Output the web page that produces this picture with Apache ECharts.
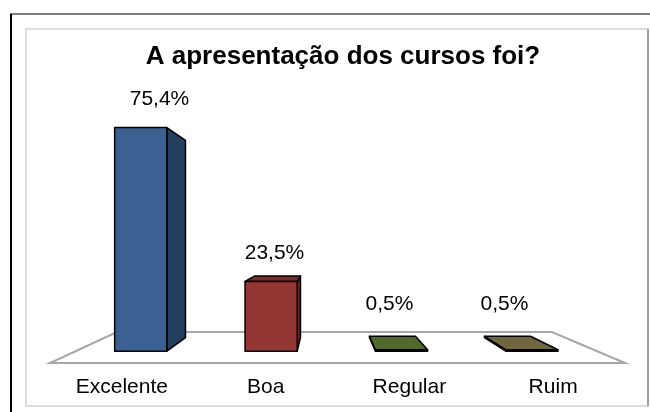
<!DOCTYPE html>
<html>
<head>
<meta charset="utf-8">
<script src="https://cdn.jsdelivr.net/npm/echarts@6/dist/echarts.min.js"></script>
<style>
html, body { margin: 0; padding: 0; background: #fff; }
#chart { width: 650px; height: 412px; }
</style>
</head>
<body>
<div id="chart"></div>
<script>
var categories = ['Excelente', 'Boa', 'Regular', 'Ruim'];
var values = [75.4, 23.5, 0.5, 0.5];
var valueLabels = ['75,4%', '23,5%', '0,5%', '0,5%'];

// face colours per bar: front, side, top
var palette = [
    ['#3b6192', '#243e5f', '#2f5079'],
    ['#943634', '#6a2321', '#7d2c2a'],
    ['#4f6a2a', '#3a4f1f', '#4f6a2a'],
    ['#716640', '#554c30', '#716640']
];

// depth of each plane, as a scale toward the vanishing point
var S_FRONT = 0.907, S_BACK = 0.80, S_FLOOR = 0.7565;
var FONT = '"Liberation Sans", Arial, sans-serif';

function vanish(cs) {
    return { x: cs.x + cs.width * 0.478, y: cs.y + cs.height - 127 };
}
function proj(vp, x, y, s) {
    return [vp.x + (x - vp.x) * s, vp.y + (y - vp.y) * s];
}

function renderFloor(params, api) {
    var cs = params.coordSys;
    var vp = vanish(cs);
    var by = cs.y + cs.height;
    var l = cs.x, r = cs.x + cs.width;
    return {
        type: 'polygon',
        shape: { points: [[l, by], [r, by], proj(vp, r, by, S_FLOOR), proj(vp, l, by, S_FLOOR)] },
        style: { fill: '#fff', stroke: '#a6a6a6', lineWidth: 2 }
    };
}

function renderBar(params, api) {
    var cs = params.coordSys;
    var vp = vanish(cs);
    var i = api.value(0), v = api.value(1);
    var top = api.coord([i, v]);
    var base = api.coord([i, 0]);
    var w = api.size([1, 0])[0] * 0.4;
    var x0 = top[0] - w / 2, x1 = top[0] + w / 2;
    var ty = top[1], by = base[1];
    var c = palette[params.dataIndex];
    var P = function (x, y, s) { return proj(vp, x, y, s); };
    var edge = { stroke: '#000', lineWidth: 1.5, lineJoin: 'round' };
    var kids = [];
    var front = [P(x0, ty, S_FRONT), P(x1, ty, S_FRONT), P(x1, by, S_FRONT), P(x0, by, S_FRONT)];

    var sx = front[1][0] < vp.x ? x1 : (front[0][0] > vp.x ? x0 : null);
    if (sx !== null) {
        kids.push({
            type: 'polygon',
            shape: { points: [P(sx, ty, S_FRONT), P(sx, ty, S_BACK), P(sx, by, S_BACK), P(sx, by, S_FRONT)] },
            style: Object.assign({ fill: c[1] }, edge)
        });
    }
    if (front[0][1] > vp.y) {
        kids.push({
            type: 'polygon',
            shape: { points: [P(x0, ty, S_FRONT), P(x1, ty, S_FRONT), P(x1, ty, S_BACK), P(x0, ty, S_BACK)] },
            style: Object.assign({ fill: c[2] }, edge)
        });
    }
    kids.push({
        type: 'polygon',
        shape: { points: front },
        style: Object.assign({ fill: c[0] }, edge)
    });

    var floorBackY = P(x0, by, S_FLOOR)[1];
    kids.push({
        type: 'text',
        style: {
            text: valueLabels[params.dataIndex],
            x: P(top[0], ty, S_BACK)[0] - 3,
            y: Math.min(front[0][1], floorBackY) - 28,
            align: 'center',
            verticalAlign: 'middle',
            fontSize: 21,
            fontFamily: FONT,
            fill: '#000'
        }
    });
    return { type: 'group', children: kids };
}

var chart = echarts.init(document.getElementById('chart'));
chart.setOption({
    animation: false,
    backgroundColor: '#fff',
    title: {
        text: 'A apresentação dos cursos foi?',
        left: 338,
        top: 39,
        textAlign: 'center',
        textStyle: { fontSize: 26, fontWeight: 'bold', fontFamily: FONT, color: '#000' }
    },
    grid: { left: 50, right: 25, top: 36, bottom: 49 },
    xAxis: {
        type: 'category',
        data: categories,
        axisLine: { show: false },
        axisTick: { show: false },
        axisLabel: { margin: 14, fontSize: 21, fontFamily: FONT, color: '#000' }
    },
    yAxis: { type: 'value', min: 0, max: 100, show: false },
    graphic: [
        { type: 'line', shape: { x1: 10, y1: 14, x2: 650, y2: 14 }, style: { stroke: '#7f7f7f', lineWidth: 2 } },
        { type: 'line', shape: { x1: 11, y1: 14, x2: 11, y2: 412 }, style: { stroke: '#000', lineWidth: 2 } },
        { type: 'rect', shape: { x: 26, y: 29, width: 622, height: 377 }, style: { fill: 'none', stroke: '#dddddd', lineWidth: 2 } },
        { type: 'line', shape: { x1: 648, y1: 29, x2: 648, y2: 406 }, style: { stroke: '#a0a0a0', lineWidth: 2 } }
    ],
    series: [
        { type: 'custom', z: 1, silent: true, renderItem: renderFloor, data: [[0, 0]] },
        {
            type: 'custom',
            z: 2,
            renderItem: renderBar,
            data: values.map(function (v, i) { return [i, v]; })
        }
    ]
});
</script>
</body>
</html>
